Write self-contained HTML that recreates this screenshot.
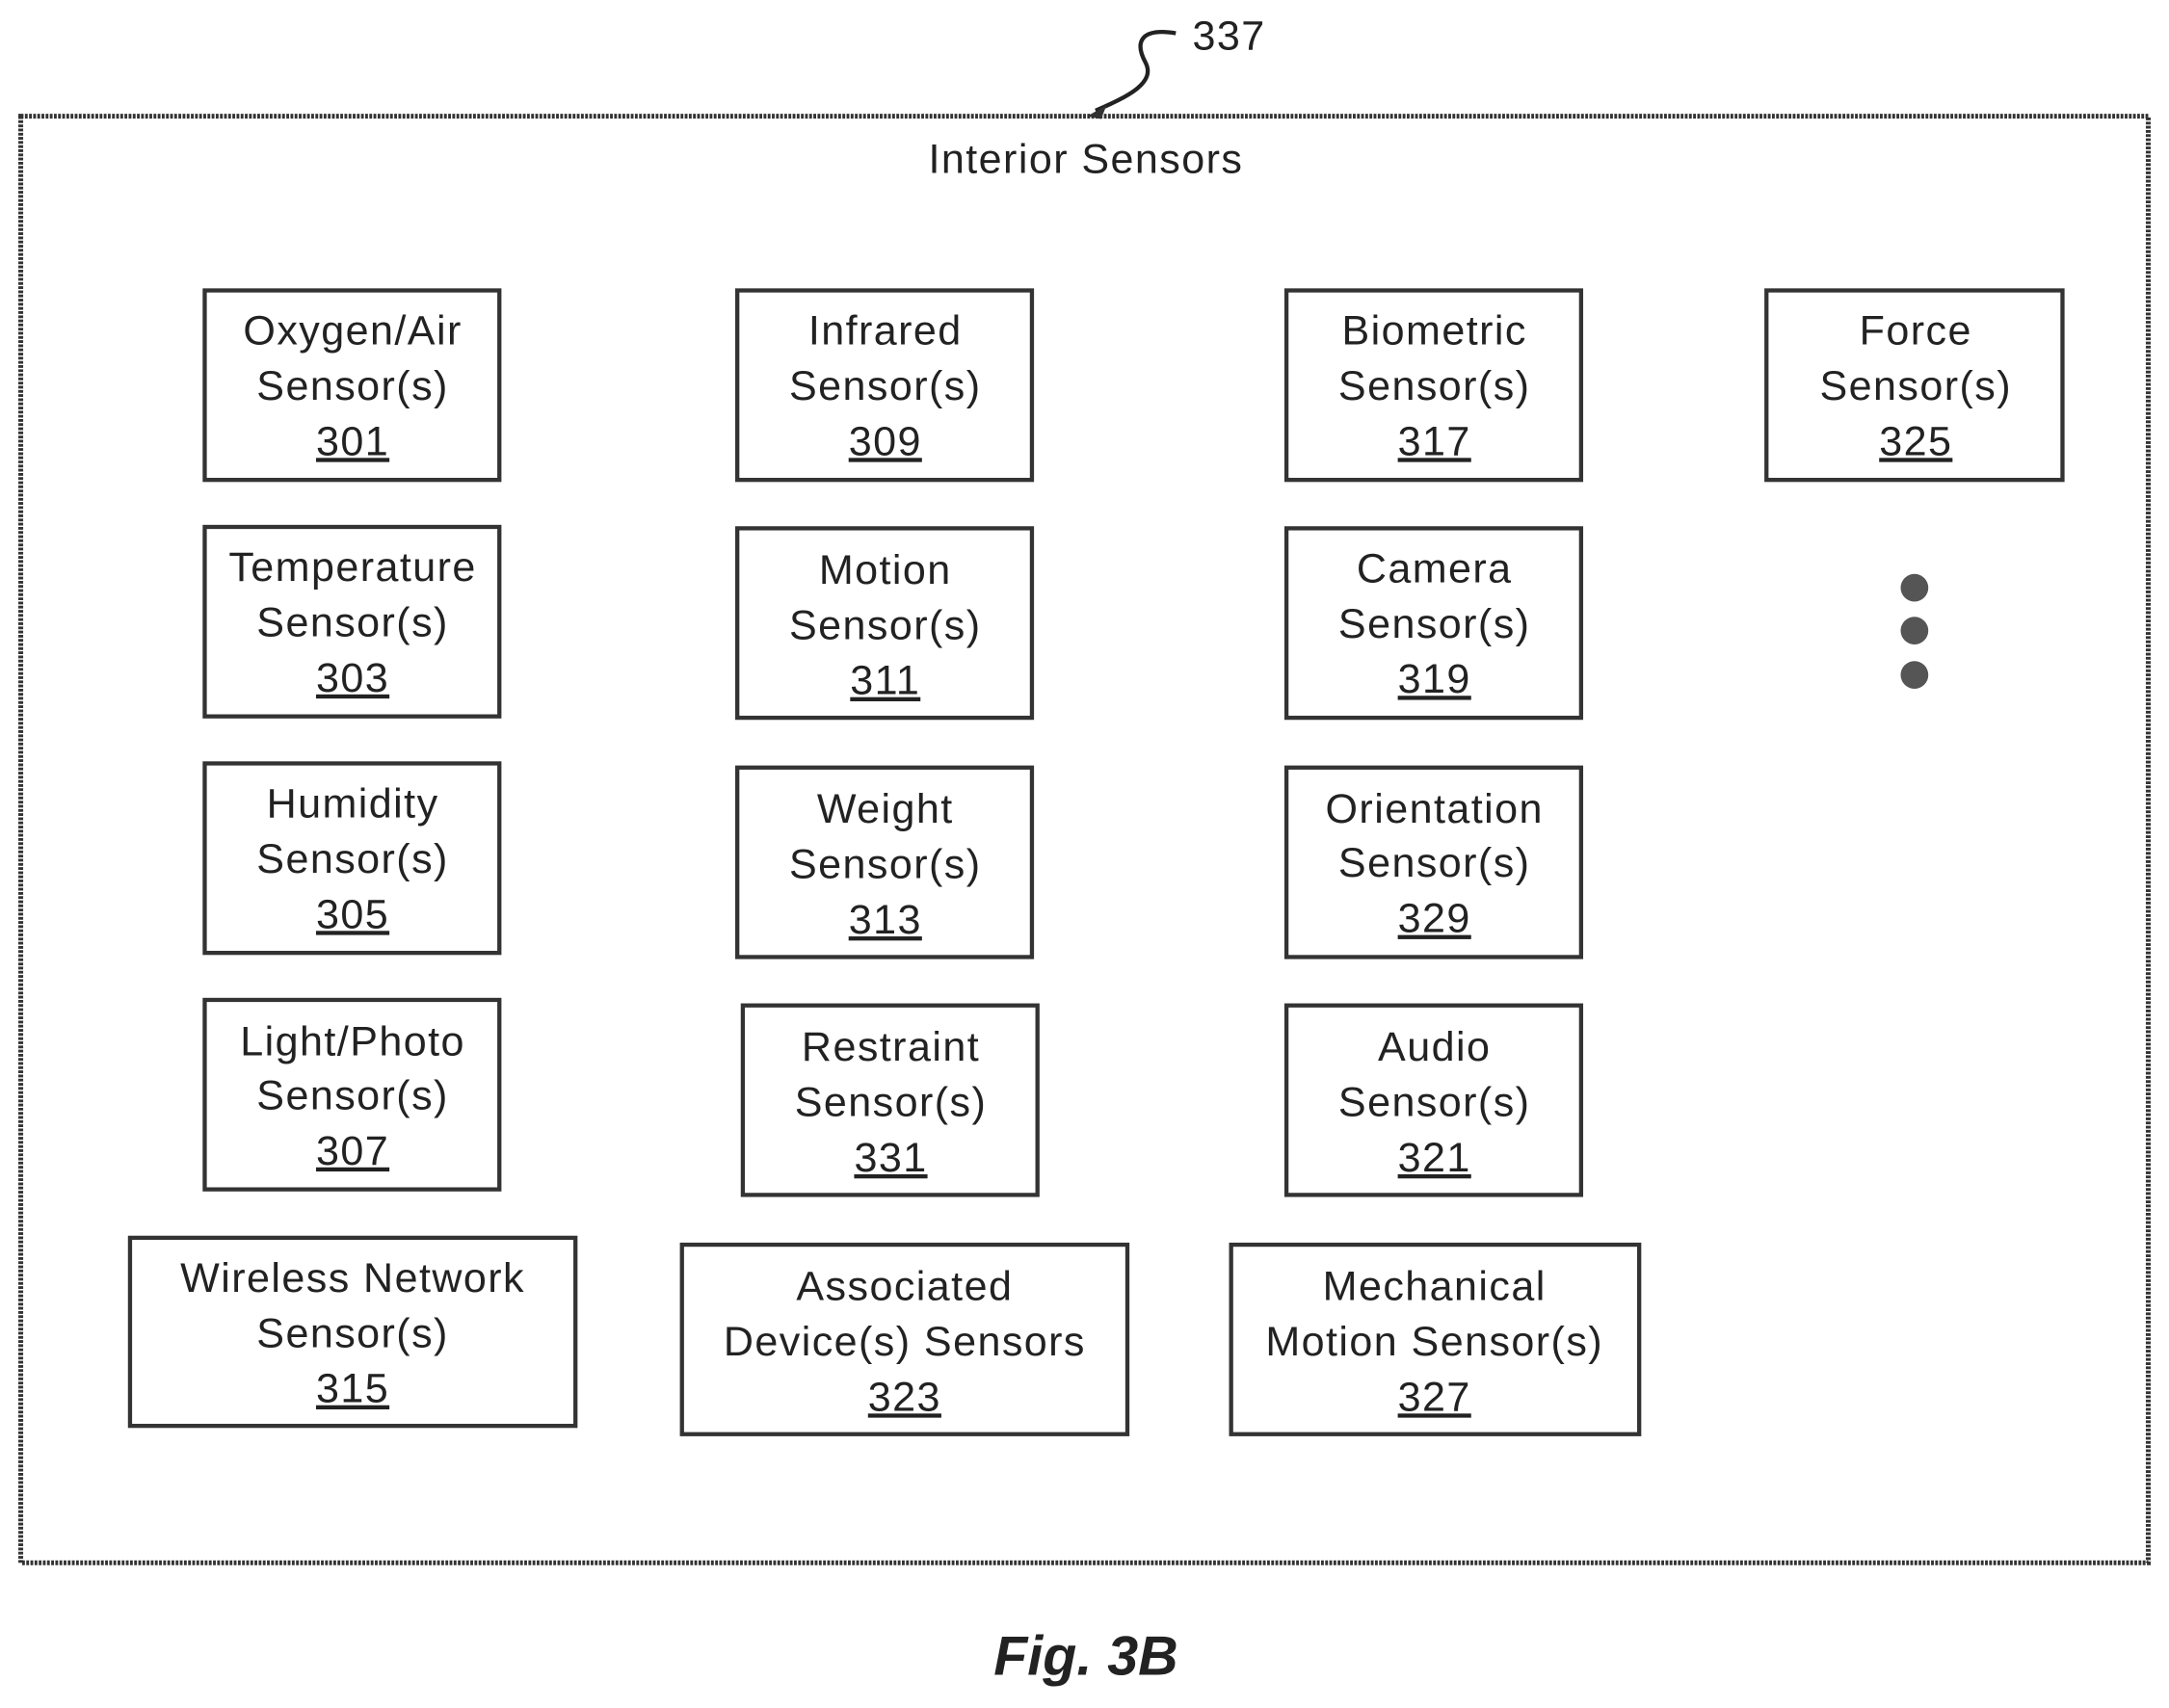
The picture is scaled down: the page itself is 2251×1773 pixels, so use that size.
<!DOCTYPE html>
<html><head><meta charset="utf-8"><style>html,body{margin:0;padding:0;background:#fff}svg{display:block}</style></head><body>
<svg width="2251" height="1773" viewBox="0 0 1568 1235" preserveAspectRatio="none" xmlns="http://www.w3.org/2000/svg" font-family="Liberation Sans, sans-serif">
<rect x="15" y="84" width="1538" height="1046" fill="none" stroke="#333" stroke-width="3.5" stroke-dasharray="2,1"/>
<text x="785" y="125" font-size="30" text-anchor="middle" fill="#222" letter-spacing="1">Interior Sensors</text>
<text x="862" y="36" font-size="30" fill="#222" letter-spacing="1">337</text>
<path d="M850,24 C825,20 820,30 828,45 C836,60 815,70 792,80" fill="none" stroke="#222" stroke-width="3"/>
<path d="M786,84 L800,76 L796,86 Z" fill="#333"/>
<g fill="none" stroke="#333" stroke-width="3">
<rect x="148" y="210" width="213" height="137"/><rect x="148" y="381" width="213" height="137"/><rect x="148" y="552" width="213" height="137"/><rect x="148" y="723" width="213" height="137"/><rect x="94" y="895" width="322" height="136"/>
<rect x="533" y="210" width="213" height="137"/><rect x="533" y="382" width="213" height="137"/><rect x="533" y="555" width="213" height="137"/><rect x="537" y="727" width="213" height="137"/><rect x="493" y="900" width="322" height="137"/>
<rect x="930" y="210" width="213" height="137"/><rect x="930" y="382" width="213" height="137"/><rect x="930" y="555" width="213" height="137"/><rect x="930" y="727" width="213" height="137"/><rect x="890" y="900" width="295" height="137"/>
<rect x="1277" y="210" width="214" height="137"/>
</g>
<g fill="#555"><circle cx="1384" cy="425" r="10"/><circle cx="1384" cy="456" r="10"/><circle cx="1384" cy="488" r="10"/></g>
<g font-size="30" text-anchor="middle" fill="#222" letter-spacing="1">
<text x="255" y="249">Oxygen/Air</text><text x="255" y="289">Sensor(s)</text><text x="255" y="329" text-decoration="underline">301</text>
<text x="255" y="420">Temperature</text><text x="255" y="460">Sensor(s)</text><text x="255" y="500" text-decoration="underline">303</text>
<text x="255" y="591">Humidity</text><text x="255" y="631">Sensor(s)</text><text x="255" y="671" text-decoration="underline">305</text>
<text x="255" y="763">Light/Photo</text><text x="255" y="802">Sensor(s)</text><text x="255" y="842" text-decoration="underline">307</text>
<text x="255" y="934">Wireless Network</text><text x="255" y="974">Sensor(s)</text><text x="255" y="1014" text-decoration="underline">315</text>
<text x="640" y="249">Infrared</text><text x="640" y="289">Sensor(s)</text><text x="640" y="329" text-decoration="underline">309</text>
<text x="640" y="422">Motion</text><text x="640" y="462">Sensor(s)</text><text x="640" y="502" text-decoration="underline">311</text>
<text x="640" y="595">Weight</text><text x="640" y="635">Sensor(s)</text><text x="640" y="675" text-decoration="underline">313</text>
<text x="644" y="767">Restraint</text><text x="644" y="807">Sensor(s)</text><text x="644" y="847" text-decoration="underline">331</text>
<text x="654" y="940">Associated</text><text x="654" y="980">Device(s) Sensors</text><text x="654" y="1020" text-decoration="underline">323</text>
<text x="1037" y="249">Biometric</text><text x="1037" y="289">Sensor(s)</text><text x="1037" y="329" text-decoration="underline">317</text>
<text x="1037" y="421">Camera</text><text x="1037" y="461">Sensor(s)</text><text x="1037" y="501" text-decoration="underline">319</text>
<text x="1037" y="595">Orientation</text><text x="1037" y="634">Sensor(s)</text><text x="1037" y="674" text-decoration="underline">329</text>
<text x="1037" y="767">Audio</text><text x="1037" y="807">Sensor(s)</text><text x="1037" y="847" text-decoration="underline">321</text>
<text x="1037" y="940">Mechanical</text><text x="1037" y="980">Motion Sensor(s)</text><text x="1037" y="1020" text-decoration="underline">327</text>
<text x="1385" y="249">Force</text><text x="1385" y="289">Sensor(s)</text><text x="1385" y="329" text-decoration="underline">325</text>
</g>
<text x="785" y="1211" font-size="40" font-weight="bold" font-style="italic" text-anchor="middle" fill="#222">Fig. 3B</text>
</svg>
</body></html>
